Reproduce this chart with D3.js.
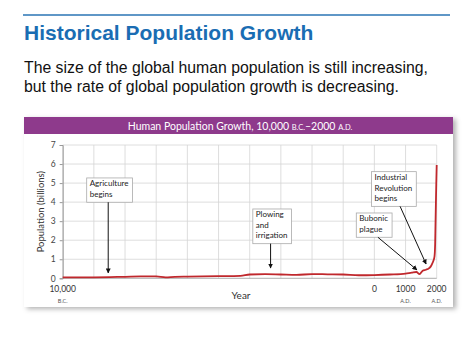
<!DOCTYPE html>
<html><head><meta charset="utf-8">
<script src="https://cdn.jsdelivr.net/npm/d3@7"></script>
<style>
html,body{margin:0;padding:0;background:#fff;}
svg{display:block;}
</style></head>
<body>
<svg id="c" width="474" height="355"></svg>
<script>
// ---- data ----
const years = [-10000,-9000,-8000,-7500,-7000,-6700,-6400,-6000,-5000,-4300,-4000,-3500,-3000,-2500,-2000,-1500,-1000,-500,0,500,1000,1200,1350,1450,1550,1650,1750,1800,1850,1900,1930,1950,1960,1975,1987,2000];
const population = [0.05,0.05,0.08,0.1,0.1,0.05,0.08,0.09,0.11,0.13,0.2,0.22,0.2,0.18,0.22,0.21,0.2,0.16,0.17,0.2,0.25,0.3,0.33,0.22,0.4,0.45,0.52,0.6,0.75,0.95,1.15,1.8,2.7,4.0,5.0,5.95];
const yTicks = [0,1,2,3,4,5,6,7];
const xGrid = d3.range(-10000, 2001, 1000);
const xLabels = [{year:-10000,label:"10,000",era:"B.C."},{year:0,label:"0",era:""},{year:1000,label:"1000",era:"A.D."},{year:2000,label:"2000",era:"A.D."}];
const notes = [
  {lines:["Agriculture","begins"], boxYear:-9230, boxTop:5.27, fromYear:-8540, toYear:-8540, toVal:0.28},
  {lines:["Plowing","and","irrigation"], boxYear:-3900, boxTop:3.64, fromYear:-3330, toYear:-3330, toVal:0.54},
  {lines:["Industrial","Revolution","begins"], boxYear:-90, boxTop:5.6, fromYear:825, toYear:1660, toVal:0.75},
  {lines:["Bubonic","plague"], boxYear:-580, boxTop:3.43, fromYear:115, toYear:1366, toVal:0.44}
];

const svg = d3.select("#c");
const FONT = "Lato, 'Open Sans', sans-serif";
// header text
svg.append("line").attr("x1",23).attr("x2",450).attr("y1",15).attr("y2",15).attr("stroke","#2a74b5").attr("stroke-width",1.5);
svg.append("text").attr("x",24).attr("y",40).attr("font-family","Liberation Sans, Arial, sans-serif").attr("font-weight","bold").attr("font-size",21).attr("fill","#1a6db3").text("Historical Population Growth");
const sub = ["The size of the global human population is still increasing,","but the rate of global population growth is decreasing."];
sub.forEach((s,i)=>svg.append("text").attr("x",24).attr("y",73+i*18.5).attr("font-family","Liberation Sans, Arial, sans-serif").attr("font-size",15.8).attr("fill","#111").text(s));

// panel with shadow
const defs = svg.append("defs");
const f = defs.append("filter").attr("id","sh").attr("x","-5%").attr("y","-5%").attr("width","115%").attr("height","120%");
f.append("feDropShadow").attr("dx",3).attr("dy",2).attr("stdDeviation",2.5).attr("flood-color","#000").attr("flood-opacity",0.3);
svg.append("rect").attr("x",24).attr("y",117).attr("width",429).attr("height",190).attr("fill","#fff").attr("filter","url(#sh)");
svg.append("rect").attr("x",24).attr("y",117).attr("width",429).attr("height",17).attr("fill","#8e3a8c");
const ht = svg.append("text").attr("x",240).attr("y",129.5).attr("text-anchor","middle").attr("font-family",FONT).attr("font-size",10.5).attr("fill","#fff");
ht.append("tspan").text("Human Population Growth, 10,000 ");
ht.append("tspan").attr("font-size",7.5).text("B.C.");
ht.append("tspan").text("–2000 ");
ht.append("tspan").attr("font-size",7.5).text("A.D.");

// scales
const x = d3.scaleLinear().domain([-10000,2000]).range([62.7,436.7]);
const y = d3.scaleLinear().domain([0,7]).range([278.3,145]);
const g = svg.append("g");
// grid
g.selectAll(".vg").data(xGrid).join("line").attr("x1",d=>x(d)).attr("x2",d=>x(d)).attr("y1",y(7)).attr("y2",y(0)).attr("stroke","#d6d6d6").attr("stroke-width",0.8);
g.selectAll(".hg").data(yTicks.filter(d=>d>0)).join("line").attr("x1",x(-10000)).attr("x2",x(2000)).attr("y1",d=>y(d)).attr("y2",d=>y(d)).attr("stroke","#d6d6d6").attr("stroke-width",0.8);
// axes
const ya = d3.axisLeft(y).tickValues(yTicks).tickSize(3).tickPadding(4).tickFormat(d3.format("d"));
const yg = g.append("g").attr("transform",`translate(${x(-10000)},0)`).call(ya);
yg.select(".domain").attr("stroke","#999");
yg.selectAll(".tick line").attr("stroke","#999");
yg.selectAll("text").attr("font-family",FONT).attr("font-size",8.5).attr("fill","#444");
g.append("line").attr("x1",x(-10000)).attr("x2",x(2000)).attr("y1",y(0)).attr("y2",y(0)).attr("stroke","#999").attr("stroke-width",0.8);
xLabels.forEach(l=>{
  g.append("text").attr("x",x(l.year)).attr("y",292).attr("text-anchor","middle").attr("font-family",FONT).attr("font-size",8.5).attr("fill","#333").text(l.label);
  if(l.era) g.append("text").attr("x",x(l.year)).attr("y",303).attr("text-anchor","middle").attr("font-family",FONT).attr("font-size",5.5).attr("fill","#555").text(l.era);
});
g.append("text").attr("x",241).attr("y",299).attr("text-anchor","middle").attr("font-family",FONT).attr("font-size",10).attr("fill","#333").text("Year");
g.append("text").attr("transform",`translate(44,${y(3.5)}) rotate(-90)`).attr("text-anchor","middle").attr("font-family",FONT).attr("font-size",9.5).attr("fill","#333").text("Population (billions)");

// line
const line = d3.line().x((d,i)=>x(years[i])).y(d=>y(d)).curve(d3.curveMonotoneX);
g.append("path").attr("d",line(population)).attr("fill","none").attr("stroke","#c0282d").attr("stroke-width",1.8);

// annotations
defs.append("marker").attr("id","ah").attr("viewBox","0 0 10 10").attr("refX",9).attr("refY",5).attr("markerWidth",5).attr("markerHeight",5).attr("orient","auto")
  .append("path").attr("d","M0,0L10,5L0,10z").attr("fill","#111");
notes.forEach(n=>{
  const lh = 10.4;
  const tg = g.append("g");
  const top = y(n.boxTop);
  const bx = x(n.boxYear);
  const texts = n.lines.map((s,i)=>tg.append("text").attr("x",bx+3).attr("y",top+8.5+i*lh).attr("font-family",FONT).attr("font-size",8).attr("fill","#222").text(s));
  const w = d3.max(texts, t=>t.node().getComputedTextLength());
  const bw = w+7, bh = n.lines.length*lh+3.5;
  tg.insert("rect","text").attr("x",bx).attr("y",top).attr("width",bw).attr("height",bh).attr("fill","#fff").attr("stroke","#aaa").attr("stroke-width",0.8);
  n._b = {bx,bw,by:top,bh};
});
notes.forEach(n=>{
  const b = n._b;
  g.append("line").attr("x1",x(n.fromYear)).attr("y1",b.by+b.bh).attr("x2",x(n.toYear)).attr("y2",y(n.toVal)).attr("stroke","#111").attr("stroke-width",1).attr("marker-end","url(#ah)");
});
</script>
</body></html>
